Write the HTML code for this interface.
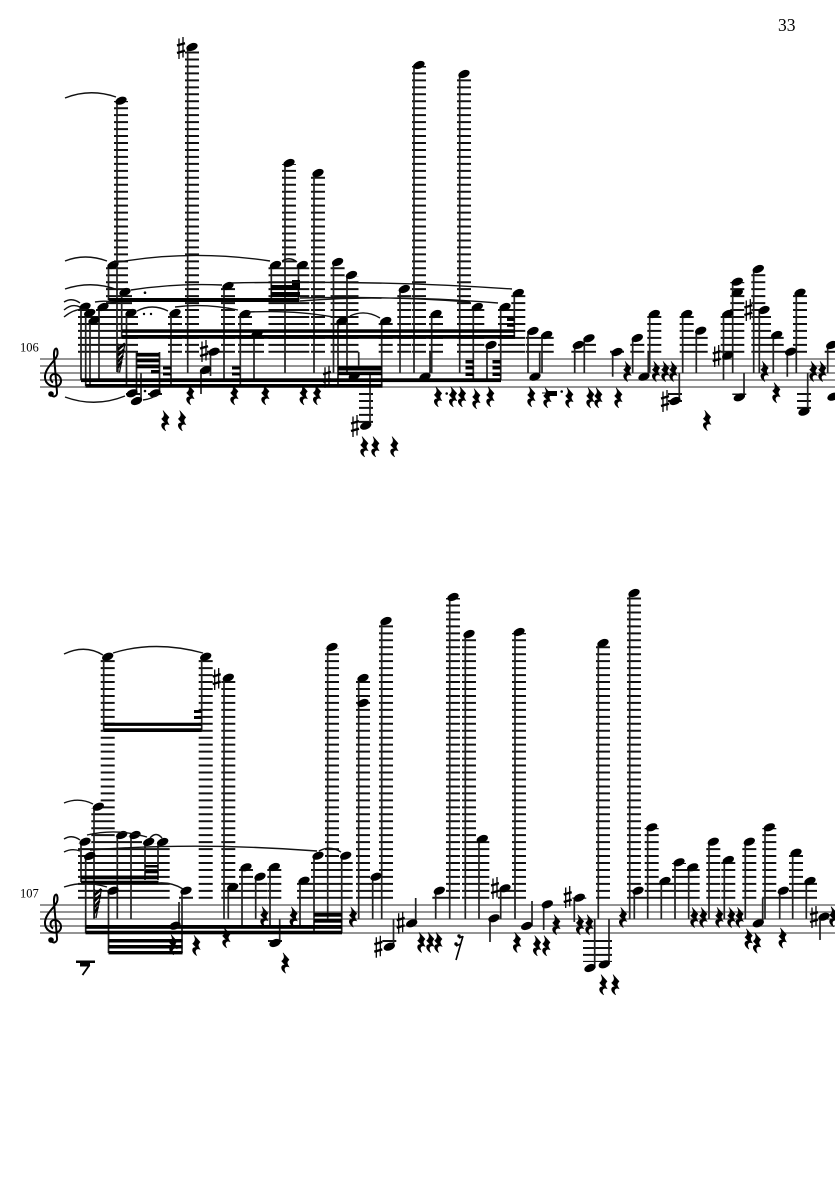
<!DOCTYPE html>
<html>
<head>
<meta charset="utf-8">
<style>
html,body{margin:0;padding:0;background:#fff}
svg{display:block;width:835px;height:1181px}
.staff{stroke:#555;stroke-width:1.3;fill:none}
.led{stroke:#111;stroke-width:14;stroke-dasharray:2 4.96;fill:none}
.st{stroke:#222;stroke-width:1.7;fill:none}
.sl{stroke:#111;stroke-width:1.4;fill:none}
.clef{stroke:#000;stroke-width:2;fill:none}
text{font-family:"Liberation Serif",serif;fill:#000}
</style>
</head>
<body>
<svg xmlns="http://www.w3.org/2000/svg" width="835" height="1181" viewBox="0 0 835 1181">
<defs>
<g id="n"><ellipse rx="5.9" ry="3.700" transform="rotate(-22)" fill="#000"/></g>
<g id="r"><path transform="scale(1.35,1.05)" d="M-1.5-10L3-3.5C1.5-1.5 1-.5 3 3.5C1 2.5-2 3.5.5 9.5C-3.5 6-3.5 1.5 0 1.5L-2.5-2C-.5-4 0-6-1.5-10Z" fill="#000" stroke="#000" stroke-width=".4"/></g>
<g id="s"><path d="M-2-9.500V11M2-11V9.500" stroke="#000" stroke-width="1.300" fill="none"/><path d="M-4-2.500L4-4.800M-4 5L4 2.700" stroke="#000" stroke-width="2.400" fill="none"/></g>
<g id="c" transform="translate(1,0)"><path class="clef" d="M-3 14C-2 18 3.500 17 3 12L0-24C-.5-33 4-34 3.500-26C3-20-8-14-9-4C-9.500 4-2 8 3.500 6C9 4 8-5 1-6C-4-6.500-5 0-1 2.500"/><circle cx="-3" cy="14" r="2.800" fill="#000"/></g>
<g id="h"><path d="M0 29V0M7 0L1.500 29" stroke="#111" stroke-width="1.300" fill="none"/><path d="M0 6L7 0M0 12L6 6M0 18L5 12M0 24L3.500 18" stroke="#000" stroke-width="2.500" fill="none"/></g>
</defs>

<text x="778" y="31" font-size="17.500">33</text>
<text x="20" y="351.500" font-size="12.500">106</text>
<text x="20" y="897.300" font-size="12.500">107</text>

<!-- staves -->
<path class="staff" d="M40 359H835M40 366H835M40 373H835M40 380H835M40 387H835M40 905H835M40 912H835M40 919H835M40 926H835M40 933H835"/>
<use href="#c" x="53" y="380"/>
<use href="#c" x="53" y="926"/>

<!-- ledgers system 1 -->
<path class="led" d="M85 352.800V307M89.700 352.800V314M94 352.800V321M103 352.800V308M113 352.800V266M121 352.800V101M125 352.800V293M131 352.800V314M175 352.800V314M192 352.800V48M228 352.800V287M245 352.800V315M257 352.800V335M275.500 352.800V266M289 352.800V164M302.300 352.800V266M318 352.800V174M337.600 352.800V263M351.500 352.800V276M342 352.800V322M385.700 352.800V322M404.300 352.800V290M419 352.800V66M436 352.800V315M464 352.800V75M477.300 352.800V308M505 352.800V308M518.300 352.800V294M491 352.800V346M533 352.800V332M546.700 352.800V336M578.300 352.800V346M589 352.800V339M637.300 352.800V339M654.300 352.800V315M686.700 352.800V315M700.700 352.800V332M727.700 352.800V315M737.300 352.800V282M758.300 352.800V270M764 352.800V311M776.700 352.800V336M800 352.800V293M831.700 352.800V346M214 352.800V350M617 352.800V350M790.700 352.800V350"/>
<path class="led" d="M366 393V423M804 393V409M675 393V402M739.300 393.500V395M133 393V395M155 393V395"/>
<!-- ledgers system 2 -->
<path class="led" d="M85 898.800V843M89.700 898.800V857M98.300 898.800V808M107.700 898.800V658M121.700 898.800V836M135 898.800V836M148.700 898.800V843M162.700 898.800V843M113 898.800V892M186 898.800V892M205.700 898.800V658M228.300 898.800V679M232.700 898.800V888M246 898.800V868M260 898.800V878M274.300 898.800V868M304 898.800V882M318 898.800V857M332 898.800V648M345.700 898.800V857M363 898.800V679M376 898.800V878M386 898.800V622M439.300 898.800V892M453 898.800V598M469 898.800V635M482.300 898.800V840M505 898.800V889M519 898.800V633M603 898.800V644M634 898.800V594M638 898.800V892M651.700 898.800V828M665 898.800V882M679 898.800V863M692.700 898.800V868M713.300 898.800V843M728.300 898.800V861M749.300 898.800V843M769.300 898.800V828M783.300 898.800V892M796 898.800V854M810 898.800V882"/>
<path class="led" d="M275 940V942M389.300 940V942M579.300 898.800V897.500"/>
<path class="led" style="stroke-width:29" d="M597.500 940V962"/>

<!-- stems -->
<path class="st" d="M81 306V380M85.700 313V386M90 320V386M99 307V380M108.500 265V300M117 100V372M121.700 292V337M126.500 313V386M136.500 352V393M141 373V400M159.500 352V393M171 313V386M187.700 47V373M201 370V394M210.500 351V376M224 286V380M240.300 314V386M254 334V380M271.300 265V300M285 163V373M298.500 265V300M314 173V373M333.500 262V373M347 275V373M338 321V386M381.700 321V386M358.700 352V368M370 373V425M400 289V373M414 65V373M431.700 314V373M430 352V373M459.700 74V373M473.300 307V380M487 345V380M500.700 307V380M514.300 293V337M528 331V373M542 335V373M539.700 352V373M574.700 345V373M584.300 338V373M612.700 352V376.700M632.700 338V373M649.700 314V373M648.300 352V375M682.700 314V373M679.300 373V401M696.300 331V373M723.500 314V380M732.700 281V373M744 373V397M753.700 269V373M759.300 310V373M773.300 335V373M787.300 352V376.700M796.300 292V373M807.700 373V411M827.700 345V373"/>
<path class="st" d="M81 841V882M85.700 856V933M94 806V919M103.700 657V731M117.300 835V919M131 835V919M145 842V880M158 842V880M108.500 890V953M182 890V953M179 902V926M201.700 657V731M224 678V919M228.300 887V919M242 867V926M255.700 877V919M270 867V926M279.700 919V943M300 881V926M314 856V933M327.700 647V919M341.700 856V933M358.700 678V919M372.700 877V919M381.700 621V919M393.500 919V947M415.700 898V923M435.700 891V919M449.700 597V919M465.300 634V919M479 839V919M500.700 888V919M490 918V942M515 632V919M532 901V926M543.700 904V930M574.300 898V922M594.700 919V968M598.300 643V919M609 919V964M629.700 593V919M634.300 891V919M647.700 827V919M661.300 881V919M675 862V919M688.700 867V919M709 842V919M724.300 860V919M745.300 842V919M762.700 898V923M765 827V919M779.700 891V919M792.700 853V919M806.300 881V919M820 917V940"/>

<!-- beams -->
<g fill="#000">
<rect x="108.500" y="298" width="191" height="4"/>
<rect x="271" y="285" width="29" height="5"/><rect x="271" y="292" width="29" height="5"/><rect x="292" y="280" width="8" height="5"/>
<rect x="122" y="329.300" width="393" height="3.500"/><rect x="122" y="335" width="393" height="3.800"/>
<rect x="81" y="378.300" width="420" height="3.800"/><rect x="85.500" y="384" width="297" height="3.700"/>
<rect x="136.500" y="352.800" width="23" height="3.800"/><rect x="136.500" y="358.500" width="23" height="3.800"/><rect x="136.500" y="364.500" width="23" height="3.800"/><rect x="151" y="370" width="8.500" height="3.500"/>
<rect x="163" y="366.500" width="8" height="3"/><rect x="163" y="372.500" width="8" height="3"/>
<rect x="232" y="366.500" width="8" height="3"/><rect x="232" y="372.500" width="8" height="3"/>
<rect x="338" y="366" width="44" height="4.500"/><rect x="338" y="371.700" width="44" height="3.500"/>
<rect x="465.500" y="360" width="8" height="3.500"/><rect x="465.500" y="366" width="8" height="3.500"/><rect x="465.500" y="372.500" width="8" height="3.500"/>
<rect x="492.500" y="360" width="8" height="3.500"/><rect x="492.500" y="366" width="8" height="3.500"/><rect x="492.500" y="372.500" width="8" height="3.500"/>
<rect x="507" y="317.500" width="7.500" height="3.500"/><rect x="507" y="323.300" width="7.500" height="3.500"/>
<rect x="81" y="875.500" width="77.500" height="3.800"/><rect x="81" y="880.700" width="77.500" height="3.500"/>
<rect x="85.500" y="925" width="256.500" height="3.800"/><rect x="85.500" y="930.700" width="256.500" height="3.600"/>
<rect x="108.500" y="939" width="74" height="3.500"/><rect x="108.500" y="945" width="74" height="3.500"/><rect x="108.500" y="951" width="74" height="3.400"/>
<rect x="145" y="865" width="13" height="2.500"/><rect x="145" y="870" width="13" height="3.300"/>
<rect x="314" y="912.700" width="28" height="4"/><rect x="314" y="919" width="28" height="3.700"/>
<rect x="103.700" y="722.700" width="98" height="3.200"/><rect x="103.700" y="728.300" width="98" height="3.700"/>
<rect x="194" y="710" width="7.700" height="3"/><rect x="194" y="716" width="7.700" height="3"/>
<rect x="542" y="392.500" width="14" height="1"/><rect x="547" y="391" width="10" height="5"/>
<circle cx="561.700" cy="391.500" r="1.300"/>
<rect x="76" y="960.500" width="19" height="2.500"/><rect x="80" y="963" width="10" height="3.500"/>
</g>
<path d="M89.500 965L82.500 975" stroke="#000" stroke-width="1.800" fill="none"/>
<use href="#h" x="118" y="343.500"/>
<use href="#h" x="94.500" y="889"/>
<g fill="#000">
<circle cx="145" cy="292.700" r="1.300"/><circle cx="145" cy="391" r="1.300"/><circle cx="144" cy="314" r="1.200"/><circle cx="151" cy="314" r="1.200"/><circle cx="446.700" cy="393.500" r="1.300"/>
<circle cx="459" cy="936" r="1.700"/><circle cx="456" cy="944" r="1.700"/>
</g>
<path d="M463 936L456 960M459 938L462.500 936.500M456 946L460.500 944" stroke="#000" stroke-width="1.600" fill="none"/>

<!-- heads system 1 -->
<g>
<use href="#n" x="85" y="306.700"/><use href="#n" x="89.700" y="313"/><use href="#n" x="94" y="320.500"/><use href="#n" x="103" y="307"/><use href="#n" x="113" y="265"/><use href="#n" x="121" y="100.700"/><use href="#n" x="125" y="292"/><use href="#n" x="131" y="313"/><use href="#n" x="132" y="393.300"/><use href="#n" x="136.500" y="401"/><use href="#n" x="155" y="393.300"/><use href="#n" x="175" y="313"/><use href="#n" x="192" y="47"/><use href="#n" x="205.500" y="370"/><use href="#n" x="214" y="351.700"/><use href="#n" x="228" y="286"/><use href="#n" x="245" y="314"/><use href="#n" x="257" y="334"/><use href="#n" x="275.500" y="265"/><use href="#n" x="289" y="163"/><use href="#n" x="302.300" y="265"/><use href="#n" x="318" y="173"/><use href="#n" x="337.600" y="262"/><use href="#n" x="351.500" y="275"/><use href="#n" x="342" y="321"/><use href="#n" x="354.300" y="376"/><use href="#n" x="365.700" y="425.700"/><use href="#n" x="385.700" y="321"/><use href="#n" x="404.300" y="289"/><use href="#n" x="419" y="65"/><use href="#n" x="425" y="376.700"/><use href="#n" x="436" y="314"/><use href="#n" x="464" y="74"/><use href="#n" x="477.300" y="307"/><use href="#n" x="491" y="345"/><use href="#n" x="505" y="307"/><use href="#n" x="518.300" y="293"/><use href="#n" x="533" y="331"/><use href="#n" x="535" y="376.700"/><use href="#n" x="546.700" y="335"/><use href="#n" x="578.300" y="345"/><use href="#n" x="589" y="338.300"/><use href="#n" x="617" y="352"/><use href="#n" x="637.300" y="338"/><use href="#n" x="644" y="376.700"/><use href="#n" x="654.300" y="314"/><use href="#n" x="675" y="401"/><use href="#n" x="686.700" y="314"/><use href="#n" x="700.700" y="330.700"/><use href="#n" x="727.700" y="314"/><use href="#n" x="727.700" y="355.700"/><use href="#n" x="737.300" y="281.700"/><use href="#n" x="737.300" y="292.700"/><use href="#n" x="739.300" y="397.300"/><use href="#n" x="758.300" y="269"/><use href="#n" x="764" y="310"/><use href="#n" x="776.700" y="335"/><use href="#n" x="790.700" y="351.700"/><use href="#n" x="800" y="292.700"/><use href="#n" x="804" y="411.700"/><use href="#n" x="831.700" y="345"/><use href="#n" x="833" y="396.700"/>
</g>
<!-- heads system 2 -->
<g>
<use href="#n" x="85" y="841.700"/><use href="#n" x="89.700" y="856"/><use href="#n" x="98.300" y="806.700"/><use href="#n" x="107.700" y="656.700"/><use href="#n" x="113" y="890.700"/><use href="#n" x="121.700" y="835"/><use href="#n" x="135" y="835"/><use href="#n" x="148.700" y="842"/><use href="#n" x="162.700" y="842"/><use href="#n" x="175" y="925.700"/><use href="#n" x="186" y="890.700"/><use href="#n" x="205.700" y="656.700"/><use href="#n" x="228.300" y="677.700"/><use href="#n" x="232.700" y="887.300"/><use href="#n" x="246" y="867.300"/><use href="#n" x="260" y="876.700"/><use href="#n" x="274.300" y="867"/><use href="#n" x="275" y="943"/><use href="#n" x="304" y="880.700"/><use href="#n" x="318" y="855.700"/><use href="#n" x="332" y="647"/><use href="#n" x="345.700" y="855.700"/><use href="#n" x="363" y="678"/><use href="#n" x="363" y="703"/><use href="#n" x="376" y="876.700"/><use href="#n" x="386" y="621"/><use href="#n" x="389.300" y="946.700"/><use href="#n" x="411.700" y="923.300"/><use href="#n" x="439.300" y="890.700"/><use href="#n" x="453" y="597"/><use href="#n" x="469" y="634"/><use href="#n" x="482.300" y="839"/><use href="#n" x="494" y="918.300"/><use href="#n" x="505" y="888.300"/><use href="#n" x="519" y="632"/><use href="#n" x="526.700" y="926"/><use href="#n" x="547.300" y="904.300"/><use href="#n" x="579.300" y="897.700"/><use href="#n" x="590" y="968"/><use href="#n" x="604.300" y="964.300"/><use href="#n" x="603" y="643"/><use href="#n" x="634" y="593"/><use href="#n" x="638" y="890.700"/><use href="#n" x="651.700" y="827.300"/><use href="#n" x="665" y="881"/><use href="#n" x="679" y="862.300"/><use href="#n" x="692.700" y="867.300"/><use href="#n" x="713.300" y="841.700"/><use href="#n" x="728.300" y="860"/><use href="#n" x="749.300" y="841.700"/><use href="#n" x="758.300" y="923.300"/><use href="#n" x="769.300" y="827.300"/><use href="#n" x="783.300" y="890.700"/><use href="#n" x="796" y="852.700"/><use href="#n" x="810" y="881"/><use href="#n" x="824" y="916.700"/>
</g>

<!-- sharps -->
<use href="#s" x="181" y="48"/><use href="#s" x="204" y="351"/><use href="#s" x="327" y="376.700"/><use href="#s" x="355" y="426"/><use href="#s" x="665" y="401"/><use href="#s" x="716.700" y="356"/><use href="#s" x="748.300" y="310"/>
<use href="#s" x="216.700" y="679"/><use href="#s" x="378.300" y="946.700"/><use href="#s" x="400.700" y="922.700"/><use href="#s" x="495" y="888"/><use href="#s" x="567.700" y="897"/><use href="#s" x="814" y="917"/>

<!-- rests -->
<use href="#r" x="165" y="421"/><use href="#r" x="181.700" y="421"/><use href="#r" x="190" y="395"/><use href="#r" x="234" y="395"/><use href="#r" x="265" y="395"/><use href="#r" x="303.300" y="395"/><use href="#r" x="316.700" y="395"/><use href="#r" x="364" y="447"/><use href="#r" x="375" y="447"/><use href="#r" x="394" y="447"/><use href="#r" x="437.700" y="397"/><use href="#r" x="452.700" y="397"/><use href="#r" x="461.700" y="397"/><use href="#r" x="476" y="399"/><use href="#r" x="490" y="397"/><use href="#r" x="531" y="397"/><use href="#r" x="547" y="398"/><use href="#r" x="569" y="398"/><use href="#r" x="590" y="398"/><use href="#r" x="598" y="398"/><use href="#r" x="618" y="398"/><use href="#r" x="627" y="371.700"/><use href="#r" x="655.700" y="371.700"/><use href="#r" x="665" y="371.700"/><use href="#r" x="673" y="371.700"/><use href="#r" x="706.700" y="420.700"/><use href="#r" x="764.300" y="371.700"/><use href="#r" x="776" y="393"/><use href="#r" x="813" y="371.700"/><use href="#r" x="822" y="371.700"/>
<use href="#r" x="173" y="945"/><use href="#r" x="196" y="945.700"/><use href="#r" x="226" y="938"/><use href="#r" x="264" y="917"/><use href="#r" x="285" y="963.300"/><use href="#r" x="293.300" y="917.300"/><use href="#r" x="352.700" y="917.300"/><use href="#r" x="421" y="942.700"/><use href="#r" x="430" y="942.700"/><use href="#r" x="438" y="942.700"/><use href="#r" x="516.700" y="942.700"/><use href="#r" x="536.700" y="946"/><use href="#r" x="546" y="946"/><use href="#r" x="556" y="925"/><use href="#r" x="579.700" y="925"/><use href="#r" x="589" y="925"/><use href="#r" x="603" y="985"/><use href="#r" x="615" y="985"/><use href="#r" x="622.700" y="917.700"/><use href="#r" x="694" y="917.700"/><use href="#r" x="703" y="917.700"/><use href="#r" x="719" y="917.700"/><use href="#r" x="731" y="917.700"/><use href="#r" x="739.300" y="917.700"/><use href="#r" x="748.300" y="939.300"/><use href="#r" x="756.700" y="943.300"/><use href="#r" x="782.300" y="938.300"/><use href="#r" x="833" y="917"/>

<!-- slurs -->
<path class="sl" d="M65 98Q90 88 116 97"/>
<path class="sl" d="M65 261Q85 253 107 261M113 263Q190 249 270 261M65 289Q92 280 118 290M131 290Q175 283 222 285M232 283Q380 280 512 289M64 302Q72 297 80 303M64 310Q72 303 80 307M64 317Q76 307 88 310M95 302Q106 300 118 303M137 311Q152 303 168 311M175 307Q205 303 238 310M248 312Q295 310 333 317M350 316Q365 309 380 318M282 261Q290 256 297 262M300 298Q390 296 470 302M300 301Q390 294 498 303M65 397Q95 408 125 396M143 400Q152 399 158 394"/>
<path class="sl" d="M64 803Q79 797 93 804M64 839Q72 834 80 840M64 852Q72 848 80 851M87 835Q117 828 147 837M150 838Q156 831 162 838M90 850Q200 842 317 851M64 887Q85 880 107 887M158 883Q172 882 183 889M319 851Q330 845 341 852M64 654Q85 644 103 655M113 653Q155 640 203 653"/>
</svg>
</body>
</html>
